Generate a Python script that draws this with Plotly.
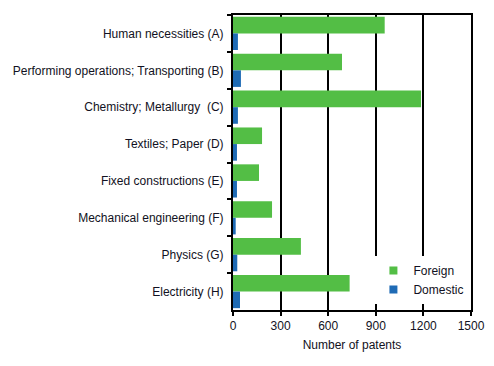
import plotly.graph_objects as go

categories = [
    "Human necessities (A)",
    "Performing operations; Transporting (B)",
    "Chemistry; Metallurgy  (C)",
    "Textiles; Paper (D)",
    "Fixed constructions (E)",
    "Mechanical engineering (F)",
    "Physics (G)",
    "Electricity (H)",
]
foreign = [956, 687, 1185, 183, 164, 246, 428, 735]
domestic = [31, 50, 31, 25, 25, 17, 27, 44]
x_ticks = [0, 300, 600, 900, 1200, 1500]

GREEN = "#53BE45"
BLUE = "#1F6BB5"
FONT = "Liberation Sans, Arial, sans-serif"

fig = go.Figure()
fig.add_trace(go.Bar(y=categories, x=foreign, orientation="h", name="Foreign",
                     marker=dict(color=GREEN, line=dict(width=0)), showlegend=False))
fig.add_trace(go.Bar(y=categories, x=domestic, orientation="h", name="Domestic",
                     marker=dict(color=BLUE, line=dict(width=0)), showlegend=False))
# legend proxies
fig.add_trace(go.Scatter(x=[None], y=[None], mode="markers", name="Foreign",
                         marker=dict(symbol="square", size=8, color=GREEN)))
fig.add_trace(go.Scatter(x=[None], y=[None], mode="markers", name="Domestic",
                         marker=dict(symbol="square", size=8, color=BLUE)))

# page body has an 8px default margin, so the figure is sized to fit inside it
fig.update_layout(
    width=486, height=358,
    margin=dict(l=225, r=23, t=7, b=56, autoexpand=False),
    paper_bgcolor="white", plot_bgcolor="white",
    barmode="group", bargap=0.1, bargroupgap=0,
    font=dict(family=FONT, size=11, color="#111122"),
    legend=dict(x=0.59, y=0.183, xanchor="left", yanchor="top",
                bgcolor="white", font=dict(size=12), itemwidth=30,
                tracegroupgap=0),
    xaxis=dict(range=[0, 1500], tickvals=x_ticks, showgrid=True,
               gridcolor="black", gridwidth=2, showline=True, linecolor="black",
               linewidth=2, mirror=True, ticks="outside", ticklen=4,
               tickcolor="black", tickwidth=2, zeroline=False, automargin=False,
               title=dict(text="Number of patents", font=dict(size=12), standoff=8),
               tickfont=dict(size=12)),
    yaxis=dict(autorange="reversed", showline=True, linecolor="black",
               linewidth=2, mirror=True, ticks="outside", ticklen=4,
               tickcolor="black", tickwidth=2, tickson="boundaries",
               showgrid=False, tickfont=dict(size=12), automargin=False,
               ticklabelstandoff=5),
)

fig.write_html("out.html")
